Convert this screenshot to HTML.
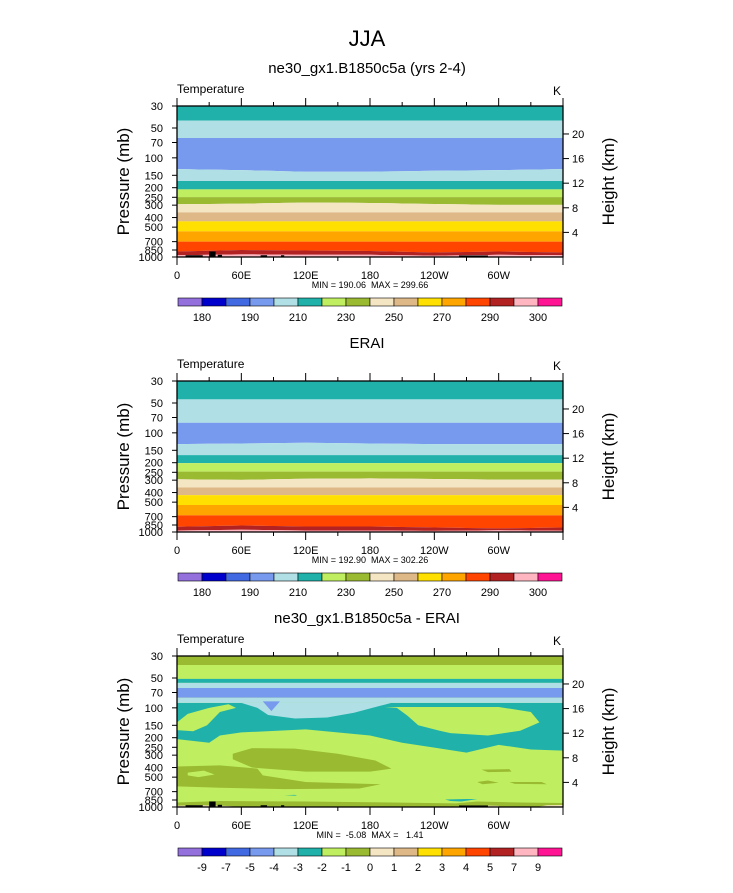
<!DOCTYPE html>
<html><head><meta charset="utf-8"><style>
body{margin:0;background:#fff;}
svg text{font-family:"Liberation Sans",sans-serif;fill:#000;white-space:pre;}
</style></head><body>
<svg id="fig" width="733" height="888" viewBox="0 0 733 888" xmlns="http://www.w3.org/2000/svg">
<text x="367" y="46" font-size="22" text-anchor="middle">JJA</text>
</svg>
<script>
const NS="http://www.w3.org/2000/svg";
const svg=document.getElementById('fig');
const COLORS=["#9370db","#0000cd","#4169e1","#7799ee","#b0e0e6","#20b2aa","#bfef60","#9aba32","#f5e6c3","#deb887","#ffe000","#ffa500","#ff4500","#b22222","#ffb6c1","#ff1493"];
const lonNodes=[0,60,120,180,240,300,360];
// panel 1 (model) band boundaries (mb) and band colour indices
const p1Bounds=[[42],[63],[130,133,138,138,135,133,130],[171],[208],[249],[294,290,282,285,292,298,298],[355],[437],[552],[700],[880,850,860,870,900,880,900],[960,940,950,950,970,950,960]];
const p1Colors=[5,4,3,4,5,6,7,8,9,10,11,12,13,14];
// panel 2 (ERAI)
const p2Bounds=[[46],[79],[130,128,126,128,130,130,130],[168],[202],[246],[294,298,290,288,292,296,296],[356],[425],[534],[679],[885,860,880,880,900,920,900],[965,950,965,965,975,960,970]];
const p2Colors=[5,4,3,4,5,6,7,8,9,10,11,12,13,14];
// panel 3 (difference) bands
const p3Bounds=[[37],[51],[56],[63],[79],[89]];
const p3Colors=[7,6,5,4,3,4];
const p3TealLon=[0,30,40,60,120,180,210,240,270,300,330,360];
const p3TealP=[207,225,190,177,165,190,225,252,283,236,263,270];
const p3Blobs=[
 {c:6,pts:[[194,98],[300,98],[330,110],[338,140],[320,170],[290,190],[255,180],[245,170],[225,150],[215,120],[205,100]]},
 {c:6,pts:[[0,140],[10,115],[30,100],[48,92],[55,100],[40,110],[28,150],[15,172],[0,168]]},
 {c:4,pts:[[60,89],[75,100],[85,118],[110,128],[140,125],[165,112],[190,95],[200,89]]},
 {c:3,pts:[[80,86],[88,108],[96,86]]},
 {c:7,pts:[[52,290],[70,255],[110,258],[150,290],[185,340],[200,410],[180,440],[120,440],[70,400],[52,330]]},
 {c:7,pts:[[0,390],[40,380],[75,410],[80,480],[120,560],[190,590],[170,650],[100,660],[40,640],[0,620]]},
 {c:6,pts:[[10,450],[25,430],[35,470],[20,500],[10,480]]},
 {c:7,pts:[[284,420],[310,415],[312,440],[290,445]]},
 {c:7,pts:[[280,560],[290,540],[300,570],[285,590]]},
 {c:7,pts:[[310,560],[340,560],[345,590],[315,585]]},
 {c:5,pts:[[250,840],[270,830],[280,832],[265,880],[255,870]]},
 {c:5,pts:[[100,760],[110,755],[112,770]]},
 {c:7,pts:[[0,1000],[0,900],[40,870],[120,880],[200,900],[260,920],[280,880],[320,900],[360,910],[360,1000]]},
 {c:8,pts:[[0,1000],[0,970],[20,960],[45,975],[60,1000]]},
 {c:8,pts:[[275,1000],[285,965],[300,975],[300,1000]]},
 {c:8,pts:[[335,1000],[345,960],[360,955],[360,1000]]}
];
// topography (lon start, lon end, top pressure)
const topoLon0=[8,30,38,78,97,263];
const topoLon1=[24,36,42,84,100,290];
const topoTop=[960,880,950,960,960,965];
const pTicks=[30,50,70,100,150,200,250,300,400,500,700,850,1000];
const hTicks=[4,8,12,16,20];
const xTickLon=[0,60,120,180,240,300];
const xTickLab=["0","60E","120E","180","120W","60W"];
const cbTempLabels=["180","","190","","210","","230","","250","","270","","290","","300"];
const cbDiffLabels=["-9","-7","-5","-4","-3","-2","-1","0","1","2","3","4","5","7","9"];

const X0=177,X1=563,H=151;
function el(tag,attrs,parent){const e=document.createElementNS(NS,tag);for(const k in attrs)e.setAttribute(k,attrs[k]);(parent||svg).appendChild(e);return e;}
function txt(x,y,s,size,anchor,parent){const t=el('text',{x:x,y:y,'font-size':size,'text-anchor':anchor||'start'},parent);t.textContent=s;return t;}
function xs(lon){return X0+(X1-X0)*lon/360;}
function ys(top,p){return top+H*(Math.log10(p)-Math.log10(30))/(Math.log10(1000)-Math.log10(30));}
function bAt(b,lon){if(b.length===1)return b[0];const i=Math.min(5,Math.floor(lon/60));const f=(lon-lonNodes[i])/60;return b[i]+(b[i+1]-b[i])*f;}

function bandPanel(g,top,bounds,colors){
  for(let k=0;k<colors.length;k++){
    let d='';const up=k===0?null:bounds[k-1];const lo=k<bounds.length?bounds[k]:null;
    for(let lon=0;lon<=360;lon+=10){d+=(lon?'L':'M')+xs(lon)+','+(up?ys(top,bAt(up,lon)):top);}
    for(let lon=360;lon>=0;lon-=10){d+='L'+xs(lon)+','+(lo?ys(top,bAt(lo,lon)):top+H);}
    const p=el('path',{d:d+'Z',fill:COLORS[colors[k]]},g);
    
    
  }
}
function topo(g,top){
  for(let i=0;i<topoLon0.length;i++){
    const r=el('rect',{x:xs(topoLon0[i]),y:ys(top,topoTop[i]),width:xs(topoLon1[i])-xs(topoLon0[i]),height:top+H-ys(top,topoTop[i]),fill:'#000'},g);
    
    
  }
}
function axes(g,top,minmax,cbLabels){
  el('rect',{x:X0,y:top,width:X1-X0,height:H,fill:'none',stroke:'#000','stroke-width':1.3},g);
  txt(X0,top-13,'Temperature',12,'start',g);
  txt(X1-2,top-11,'K',12,'end',g);
  for(let lon=0;lon<=360;lon+=30){
    const major=lon%60===0, L=major?8:4;
    el('line',{x1:xs(lon),x2:xs(lon),y1:top,y2:top-L,stroke:'#000'},g);
    el('line',{x1:xs(lon),x2:xs(lon),y1:top+H,y2:top+H+L,stroke:'#000'},g);
  }
  xTickLon.forEach((lon,i)=>{const t=txt(xs(lon),top+H+22,xTickLab[i],11,'middle',g);});
  pTicks.forEach(p=>{const y=ys(top,p);el('line',{x1:X0-5,x2:X0,y1:y,y2:y,stroke:'#000'},g);
    const t=txt(X0-14,y+4,String(p),11,'end',g);});
  hTicks.forEach(h=>{const p=1000*Math.exp(-h/7);const y=ys(top,p);el('line',{x1:X1,x2:X1+6,y1:y,y2:y,stroke:'#000'},g);
    const t=txt(X1+9,y+4,String(h),11,'start',g);});
  const yl=txt(0,0,'Pressure (mb)',17,'middle',g);yl.setAttribute('transform',`translate(129,${top+H/2}) rotate(-90)`);
  
  const hl=txt(0,0,'Height (km)',17,'middle',g);hl.setAttribute('transform',`translate(614,${top+H/2}) rotate(-90)`);
  
  const mm=txt(370,top+H+31,minmax,9,'middle',g);
  const cy=top+192,cw=24;
  for(let i=0;i<16;i++){const r=el('rect',{x:178+i*cw,y:cy,width:cw,height:8,fill:COLORS[i],stroke:'#000','stroke-width':0.6},g);
    }
  cbLabels.forEach((s,i)=>{if(!s)return;const t=txt(178+(i+1)*cw,cy+23,s,11,'middle',g);});
}
function panel(name,top,title){
  const g=el('g',{});
  const t=txt(367,top-33,title,15,'middle',g);
  return g;
}
// panel 1
let g=panel('model-panel',106,'ne30_gx1.B1850c5a (yrs 2-4)');
bandPanel(g,106,p1Bounds,p1Colors);topo(g,106);
axes(g,106,'MIN = 190.06  MAX = 299.66',cbTempLabels);
// panel 2
g=panel('erai-panel',381,'ERAI');
bandPanel(g,381,p2Bounds,p2Colors);
axes(g,381,'MIN = 192.90  MAX = 302.26',cbTempLabels);
// panel 3
g=panel('difference-panel',656,'ne30_gx1.B1850c5a - ERAI');
el('rect',{x:X0,y:656,width:X1-X0,height:H,fill:COLORS[6]},g);
{let d='M'+xs(0)+','+ys(656,89);
 p3TealLon.forEach((lon,i)=>{d+='L'+xs(lon)+','+ys(656,p3TealP[i]);});
 d+='L'+xs(360)+','+ys(656,89)+'Z';
 const t=el('path',{d:d,fill:COLORS[5]},g);}
bandPanel(g,656,p3Bounds.slice(0,5),p3Colors.slice(0,6));
g.lastChild.remove();
{const b=p3Bounds[4],b2=p3Bounds[5];
 const d='M'+xs(0)+','+ys(656,b[0])+'L'+xs(360)+','+ys(656,b[0])+'L'+xs(360)+','+ys(656,b2[0])+'L'+xs(0)+','+ys(656,b2[0])+'Z';
 const t=el('path',{d:d,fill:COLORS[p3Colors[5]]},g);}
p3Blobs.forEach(bl=>{const d='M'+bl.pts.map(q=>xs(q[0])+','+ys(656,q[1])).join('L')+'Z';
 const p=el('path',{d:d,fill:COLORS[bl.c]},g);
 
 });
topo(g,656);
axes(g,656,'MIN =  -5.08  MAX =   1.41',cbDiffLabels);
</script>
</body></html>
